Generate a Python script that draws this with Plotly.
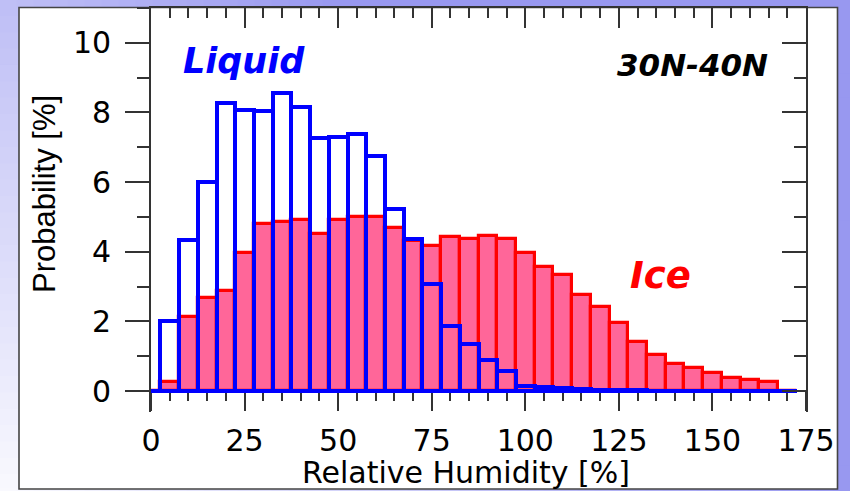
import plotly.graph_objects as go

# ---------------- data ----------------
bin_centers = [0, 5, 10, 15, 20, 25, 30, 35, 40, 45, 50, 55, 60, 65, 70, 75, 80, 85,
               90, 95, 100, 105, 110, 115, 120, 125, 130, 135, 140, 145, 150, 155,
               160, 165, 170]
liquid = [0.0, 2.01, 4.33, 6.00, 8.27, 8.07, 8.03, 8.55, 8.15, 7.27, 7.31, 7.38,
          6.76, 5.22, 4.36, 3.07, 1.87, 1.34, 0.89, 0.58, 0.15, 0.12, 0.10, 0.06,
          0.04, 0.03, 0.02, 0.01, 0.01, 0.0, 0.0, 0.0, 0.0, 0.0, 0.0]
ice = [0.0, 0.27, 2.13, 2.66, 2.87, 3.96, 4.80, 4.86, 4.90, 4.52, 4.90, 5.01,
       5.01, 4.67, 4.30, 4.16, 4.42, 4.36, 4.44, 4.38, 3.97, 3.56, 3.34, 2.77,
       2.42, 1.96, 1.42, 1.03, 0.77, 0.65, 0.51, 0.39, 0.32, 0.27, 0.0]
bin_width = 5
x_ticks = [0, 25, 50, 75, 100, 125, 150, 175]
y_ticks = [0, 2, 4, 6, 8, 10]

# ---------------- geometry (pixels of the 850x491 page) ----------------
W, H = 850, 491
PX0, PX1 = 151, 806          # plot area left / right
PY_TOP, PY_BOT = 8, 412      # plot area top / bottom
Y_ZERO = 391                 # pixel row of y = 0


def px(x):
    return x / W


def py(y):
    return 1 - y / H


FONT = "DejaVu Sans"
AX = "#333333"

fig = go.Figure()

# ice histogram (filled)
fig.add_trace(go.Bar(
    x=bin_centers, y=ice, width=[bin_width] * len(bin_centers),
    marker=dict(color="#ff6699", line=dict(color="#ff0000", width=3.2)),
    xaxis="x", yaxis="y", hoverinfo="skip"))
# liquid histogram (outline only)
fig.add_trace(go.Bar(
    x=bin_centers, y=liquid, width=[bin_width] * len(bin_centers),
    marker=dict(color="rgba(0,0,0,0)", line=dict(color="#0000ff", width=4)),
    xaxis="x", yaxis="y", hoverinfo="skip"))
# baselines of the step outlines
edge_lo = bin_centers[0] - bin_width / 2
edge_hi = bin_centers[-1] + bin_width / 2
fig.add_trace(go.Scatter(x=[edge_lo, edge_hi], y=[0, 0], mode="lines",
                         line=dict(color="#0000ff", width=4),
                         xaxis="x", yaxis="y", hoverinfo="skip"))
# empty traces so the mirror axes exist
fig.add_trace(go.Scatter(x=[], y=[], xaxis="x2", yaxis="y"))
fig.add_trace(go.Scatter(x=[], y=[], xaxis="x", yaxis="y2"))

# ---------------- background gradient + white panel ----------------
light = (250, 250, 254)
dark = (152, 152, 240)


def grad(xp, yp):
    t = min(1.0, xp / W + 0.6 * (1 - yp / H))
    c = [round(light[i] + (dark[i] - light[i]) * t) for i in range(3)]
    return "rgb(%d,%d,%d)" % tuple(c)


shapes = []
# left strip
n = 30
for i in range(n):
    y0 = H * i / n
    y1 = H * (i + 1) / n
    shapes.append(dict(type="rect", xref="paper", yref="paper", layer="below",
                       x0=0, x1=px(20), y0=py(y1 + 0.5), y1=py(y0 - 0.5),
                       fillcolor=grad(10, (y0 + y1) / 2), line=dict(width=0)))
# top strip
n = 50
for i in range(n):
    x0 = W * i / n
    x1 = W * (i + 1) / n
    shapes.append(dict(type="rect", xref="paper", yref="paper", layer="below",
                       x0=px(x0 - 0.5), x1=px(x1 + 0.5), y0=py(8), y1=1,
                       fillcolor=grad((x0 + x1) / 2, 3.5), line=dict(width=0)))
# bottom strip
for i in range(n):
    x0 = W * i / n
    x1 = W * (i + 1) / n
    shapes.append(dict(type="rect", xref="paper", yref="paper", layer="below",
                       x0=px(x0 - 0.5), x1=px(x1 + 0.5), y0=0, y1=py(488),
                       fillcolor=grad((x0 + x1) / 2, 490), line=dict(width=0)))
# right strip
n = 20
for i in range(n):
    y0 = H * i / n
    y1 = H * (i + 1) / n
    shapes.append(dict(type="rect", xref="paper", yref="paper", layer="below",
                       x0=px(836), x1=1, y0=py(y1 + 0.5), y1=py(y0 - 0.5),
                       fillcolor=grad(843, (y0 + y1) / 2), line=dict(width=0)))
# white panel with border
shapes.append(dict(type="rect", xref="paper", yref="paper", layer="below",
                   x0=px(19), x1=px(837.5), y0=py(489), y1=py(7.5),
                   fillcolor="white", line=dict(color="#444444", width=1.6)))

tickfont = dict(family=FONT, size=30, color="black")

fig.update_layout(
    width=W, height=H, autosize=False,
    margin=dict(l=0, r=0, t=0, b=0, pad=0),
    paper_bgcolor="white", plot_bgcolor="white",
    barmode="overlay", bargap=0, showlegend=False,
    shapes=shapes,
    xaxis=dict(domain=[px(PX0), px(PX1)], range=[0, 175], anchor="free",
               position=py(Y_ZERO), tickvals=x_ticks,
               ticktext=[str(v) for v in x_ticks],
               ticks="outside", ticklen=19, tickwidth=1.5, tickcolor=AX,
               minor=dict(dtick=5, tick0=0, ticks="outside", ticklen=9,
                          tickwidth=1.5, tickcolor=AX, showgrid=False),
               showline=True, linecolor=AX, linewidth=1.5,
               showgrid=False, zeroline=False, layer="below traces",
               tickfont=tickfont, ticklabelstandoff=4, automargin=False),
    xaxis2=dict(overlaying="x", side="top", anchor="y", range=[0, 175],
                tickvals=x_ticks, showticklabels=False,
                ticks="inside", ticklen=20, tickwidth=1.5, tickcolor=AX,
                minor=dict(dtick=5, tick0=0, ticks="inside", ticklen=10,
                           tickwidth=1.5, tickcolor=AX, showgrid=False),
                showline=True, linecolor=AX, linewidth=1.6,
                showgrid=False, zeroline=False, automargin=False),
    yaxis=dict(domain=[py(PY_BOT), py(PY_TOP)], range=[-0.6, 11.0],
               anchor="x", tickvals=y_ticks,
               ticktext=[str(v) for v in y_ticks],
               ticks="outside", ticklen=24, tickwidth=1.5, tickcolor=AX,
               minor=dict(dtick=1, tick0=0, ticks="outside", ticklen=12,
                          tickwidth=1.5, tickcolor=AX, showgrid=False),
               showline=True, linecolor=AX, linewidth=1.6,
               showgrid=False, zeroline=False,
               tickfont=tickfont, ticklabelstandoff=8, automargin=False),
    yaxis2=dict(overlaying="y", side="right", anchor="x", range=[-0.6, 11.0],
                tickvals=y_ticks, showticklabels=False,
                ticks="inside", ticklen=24, tickwidth=1.5, tickcolor=AX,
                minor=dict(dtick=1, tick0=0, ticks="inside", ticklen=12,
                           tickwidth=1.5, tickcolor=AX, showgrid=False),
                showline=True, linecolor=AX, linewidth=1.6,
                showgrid=False, zeroline=False, automargin=False),
    annotations=[
        dict(text="<b><i>Liquid</i></b>", xref="paper", yref="paper",
             x=px(243.5), y=py(61), xanchor="center", yanchor="middle",
             showarrow=False, font=dict(family=FONT, size=35, color="#0000ff")),
        dict(text="<b><i>Ice</i></b>", xref="paper", yref="paper",
             x=px(660.5), y=py(275), xanchor="center", yanchor="middle",
             showarrow=False, font=dict(family=FONT, size=37, color="#ff0000")),
        dict(text="<b><i>30N-40N</i></b>", xref="paper", yref="paper",
             x=px(692), y=py(65), xanchor="center", yanchor="middle",
             showarrow=False, font=dict(family=FONT, size=31, color="black")),
        dict(text="Relative Humidity [%]", xref="paper", yref="paper",
             x=px(466), y=py(472), xanchor="center", yanchor="middle",
             showarrow=False, font=dict(family=FONT, size=30, color="black")),
        dict(text="Probability [%]", xref="paper", yref="paper",
             x=px(44), y=py(194), xanchor="center", yanchor="middle",
             textangle=-90, showarrow=False,
             font=dict(family="Liberation Sans", size=31, color="black")),
    ],
)

post = ("document.documentElement.style.margin='0';"
        "document.body.style.margin='0';"
        "document.body.style.overflow='hidden';"
        "var gd=document.getElementById('{plot_id}');"
        "Plotly.relayout(gd,{width:850,height:491});")

fig.write_html("out.html", config={"responsive": False},
               default_width="850px", default_height="491px",
               post_script=post)
